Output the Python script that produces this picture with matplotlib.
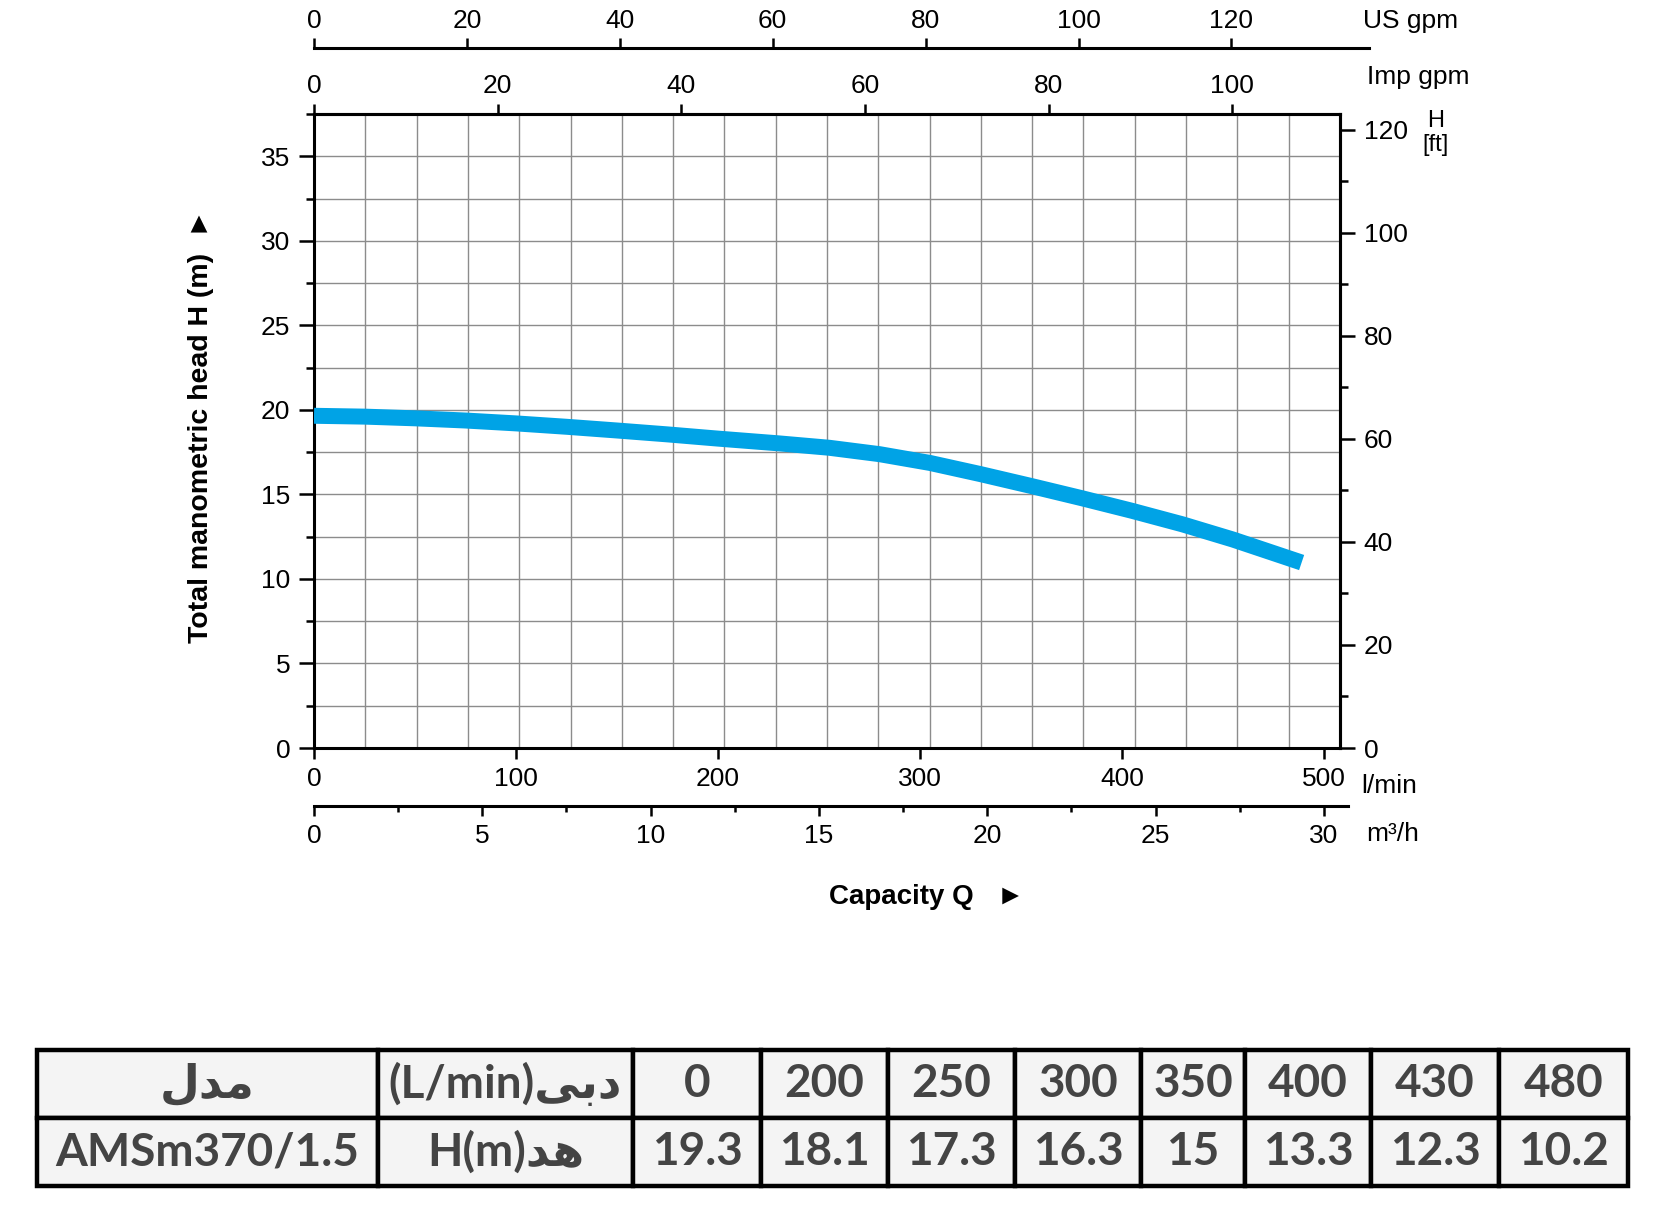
import numpy as np
import matplotlib.pyplot as plt
from matplotlib.ticker import MultipleLocator

plt.rcParams['font.family'] = ['Liberation Sans', 'DejaVu Sans']

# ==========================
# data
# ==========================
# pump curve: capacity (l/min) and head (m)
curve_q = [0, 25, 50, 75, 100, 125, 150, 175, 200, 230, 255, 280,
           305, 330, 355, 380, 405, 430, 455, 480, 489]
curve_h = [19.65, 19.6, 19.5, 19.37, 19.2, 19.0, 18.78, 18.55, 18.3, 18.02,
           17.76, 17.38, 16.86, 16.2, 15.5, 14.78, 14.03, 13.23, 12.33,
           11.33, 10.97]

# table under the chart
table_q = [0, 200, 250, 300, 350, 400, 430, 480]
table_h = [19.3, 18.1, 17.3, 16.3, 15, 13.3, 12.3, 10.2]
model = "AMSm370/1.5"

# persian labels written as presentation forms in visual order,
# matplotlib does no arabic shaping on its own
lbl_model = "\uFEDD\uFEAA\uFEE3"          # مدل
lbl_flow = "(L/min)\uFEF0\uFE91\uFEA9"    # دبی(L/min)
lbl_head = "H(m)\uFEAA\uFEEB"             # هد H(m)

us_ticks = [0, 20, 40, 60, 80, 100, 120]
imp_ticks = [0, 20, 40, 60, 80, 100]
lpm_ticks = [0, 100, 200, 300, 400, 500]
m3h_ticks = [0, 5, 10, 15, 20, 25, 30]
m_ticks = [0, 5, 10, 15, 20, 25, 30, 35]
ft_ticks = [0, 20, 40, 60, 80, 100, 120]

# unit conversions
US_GAL = 3.78541
IMP_GAL = 4.54609
M3H = 1000 / 60
FT = 0.3048

# ==========================
# layout (pixels)
# ==========================
W, H = 1656, 1220
L, R, T, B = 314, 1340, 114, 748
QMAX = 508
HMAX = 37.5
px_per_lpm = (R - L) / QMAX

fig = plt.figure(figsize=(W / 100, H / 100), dpi=100)

ax = fig.add_axes([L / W, 1 - B / H, (R - L) / W, (B - T) / H])
ax.set_xlim(0, QMAX)
ax.set_ylim(0, HMAX)

# grid
ax.vlines(np.linspace(0, QMAX, 21)[1:-1], 0, HMAX, color="#8c8c8c", lw=1.0, zorder=1)
ax.hlines(np.arange(2.5, HMAX, 2.5), 0, QMAX, color="#8c8c8c", lw=1.0, zorder=1)

ax.plot(curve_q, curve_h, color="#00a3e6", lw=11.5, solid_capstyle="butt",
        solid_joinstyle="round", zorder=3)

for s in ax.spines.values():
    s.set_linewidth(2.2)

ax.set_xticks(lpm_ticks)
ax.tick_params(axis="x", direction="out", length=8, width=1.8, pad=6, labelsize=19)
ax.set_yticks(m_ticks)
ax.yaxis.set_minor_locator(MultipleLocator(2.5))
ax.tick_params(axis="y", which="major", direction="out", length=11, width=1.8, pad=6, labelsize=19)
ax.tick_params(axis="y", which="minor", direction="out", length=5.5, width=1.8)

# head in feet on the right
sec_ft = ax.secondary_yaxis("right", functions=(lambda m: m / FT, lambda f: f * FT))
sec_ft.set_yticks(ft_ticks)
sec_ft.yaxis.set_minor_locator(MultipleLocator(10))
sec_ft.tick_params(which="major", direction="out", length=11, width=1.8, pad=6, labelsize=19)
sec_ft.tick_params(which="minor", direction="out", length=5.5, width=1.8)
sec_ft.spines["right"].set_linewidth(2.2)

# imp gpm along the top border
sec_imp = ax.secondary_xaxis("top", functions=(lambda q: q / IMP_GAL, lambda g: g * IMP_GAL))
sec_imp.set_xticks(imp_ticks)
sec_imp.tick_params(direction="out", length=7, width=1.8, pad=4.5, labelsize=19)
sec_imp.spines["top"].set_linewidth(2.2)

# US gpm scale line above
us_right = 1369
ax_us = fig.add_axes([L / W, 1 - 48 / H, (us_right - L) / W, 1e-4])
ax_us.set_xlim(0, (us_right - L) / px_per_lpm / US_GAL)
ax_us.set_facecolor("none")
ax_us.set_yticks([])
for k in ["left", "right", "bottom"]:
    ax_us.spines[k].set_visible(False)
ax_us.spines["top"].set_linewidth(2.2)
ax_us.xaxis.set_ticks_position("top")
ax_us.set_xticks(us_ticks)
ax_us.tick_params(axis="x", direction="out", length=7, width=1.8, pad=3.5, labelsize=19)

# m3/h scale line below
m3_right = 1348
ax_m3 = fig.add_axes([L / W, 1 - 806 / H, (m3_right - L) / W, 1e-4])
ax_m3.set_xlim(0, (m3_right - L) / px_per_lpm / M3H)
ax_m3.set_facecolor("none")
ax_m3.set_yticks([])
for k in ["left", "right", "top"]:
    ax_m3.spines[k].set_visible(False)
ax_m3.spines["bottom"].set_linewidth(2.2)
ax_m3.set_xticks(m3h_ticks)
ax_m3.xaxis.set_minor_locator(MultipleLocator(2.5))
ax_m3.tick_params(axis="x", which="major", direction="out", length=7, width=1.8, pad=6, labelsize=19)
ax_m3.tick_params(axis="x", which="minor", direction="out", length=4.5, width=1.8)

# unit labels
fig.text(1363 / W, 1 - 21 / H, "US gpm", fontsize=19, va="center", ha="left")
fig.text(1367 / W, 1 - 77 / H, "Imp gpm", fontsize=19, va="center", ha="left")
fig.text(1361 / W, 1 - 786 / H, "l/min", fontsize=19, va="center", ha="left")
fig.text(1366 / W, 1 - 834 / H, "m\u00b3/h", fontsize=19, va="center", ha="left")
fig.text(1436 / W, 1 - 121 / H, "H", fontsize=17, va="center", ha="center")
fig.text(1436 / W, 1 - 145 / H, "[ft]", fontsize=17, va="center", ha="center")

fig.text(201 / W, 1 - 426 / H, "Total manometric head H (m)  \u25ba",
         fontsize=20.5, fontweight="bold", rotation=90, va="center", ha="center")
fig.text(927 / W, 1 - 897 / H, "Capacity Q   \u25ba",
         fontsize=20, fontweight="bold", va="center", ha="center")

# ==========================
# table
# ==========================
edges = np.array([37, 378, 633, 761, 888, 1015, 1141, 1245, 1371, 1499, 1628])
t_top, t_bot = 1050, 1186
ax_t = fig.add_axes([edges[0] / W, 1 - t_bot / H, (edges[-1] - edges[0]) / W, (t_bot - t_top) / H])
ax_t.axis("off")

cells = [
    [lbl_model, lbl_flow] + [str(q) for q in table_q],
    [model, lbl_head] + [f"{h:g}" for h in table_h],
]
widths = list(np.diff(edges) / (edges[-1] - edges[0]))
tbl = ax_t.table(cellText=cells, colWidths=widths, bbox=[0, 0, 1, 1], cellLoc="center")
tbl.auto_set_font_size(False)
for (r, c), cell in tbl.get_celld().items():
    cell.set_facecolor("#f4f4f4")
    cell.set_edgecolor("black")
    cell.set_linewidth(3.2)
    cell.get_text().set_fontsize(33)
    cell.get_text().set_fontweight("bold")
    cell.get_text().set_color("#444444")
    cell.get_text().set_family(["Lato", "DejaVu Sans"])

fig.savefig("out.png", dpi=100)
